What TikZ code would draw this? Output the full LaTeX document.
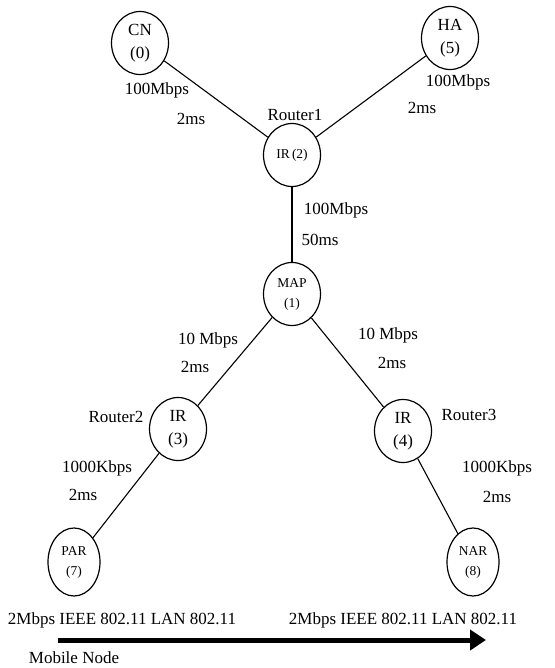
\documentclass[tikz,border=0pt]{standalone}
\usepackage{fontspec}
\setmainfont{Liberation Serif}
\usetikzlibrary{shapes.geometric,arrows.meta,positioning}

\begin{document}
\begin{tikzpicture}[x=1pt,y=-1pt,
    every node/.style={font=\fontsize{17}{23}\selectfont,inner sep=0pt},
    host/.style={ellipse,draw,line width=1.2pt,minimum width=57pt,minimum height=63pt,align=center},
    smallhost/.style={host,font=\fontsize{13.5}{20}\selectfont},
    accessrouter/.style={smallhost,minimum width=52pt,minimum height=68pt},
    link/.style={line width=1.1pt},
    move/.style={-{Triangle[length=16pt,width=20pt]},line width=5pt}
]
\useasboundingbox (0,0) rectangle (554,668);

% Core network
\node[host] (cn) at (140,43) {CN\\(0)};
\node[host] (ha) at (450,38) {HA\\(5)};
\node[smallhost] (ir2) at (292,155) {IR\,(2)};
\node[smallhost] (map) at (292,294) {MAP\\(1)};

% Intermediate routers
\node[host] (ir3) at (178,429) {IR\\(3)};
\node[host] (ir4) at (403,431) {IR\\(4)};

% Access routers
\node[accessrouter] (par) at (74,562) {PAR\\(7)};
\node[accessrouter] (nar) at (473,562) {NAR\\(8)};

% Links
\draw[link] (cn) -- (ir2);
\draw[link] (ha) -- (ir2);
\draw[link] (ir2) -- (map);
\draw[link] (map) -- (ir3);
\draw[link] (map) -- (ir4);
\draw[link] (ir3) -- (par);
\draw[link] (ir4) -- (nar);

% Link labels
\node (cnbw) at (157,90) {100Mbps};
\node (cndelay) at (191,119) {2ms};
\node (habw) at (458,82) {100Mbps};
\node (hadelay) at (422,108) {2ms};
\node (mapbw) at (336,210) {100Mbps};
\node (mapdelay) at (320,240) {50ms};
\node (ir3bw) at (208,340) {10 Mbps};
\node (ir3delay) at (195,367) {2ms};
\node (ir4bw) at (388,335) {10 Mbps};
\node (ir4delay) at (392,363) {2ms};
\node (parbw) at (97,468) {1000Kbps};
\node (pardelay) at (83,495) {2ms};
\node (narbw) at (497,468) {1000Kbps};
\node (nardelay) at (497,497) {2ms};

% Router names
\node (rname1) at (295,115) {Router1};
\node (rname2) at (116,417) {Router2};
\node (rname3) at (469,415) {Router3};

% Wireless LANs and mobile node
\node (wlan1) at (122,620) {2Mbps IEEE 802.11 LAN 802.11};
\node (wlan2) at (403,620) {2Mbps IEEE 802.11 LAN 802.11};
\coordinate (mnstart) at (58,640);
\coordinate (mnend) at (486,640);
\draw[move] (mnstart) -- (mnend);
\node (mn) at (74,658) {Mobile Node};

\end{tikzpicture}
\end{document}
